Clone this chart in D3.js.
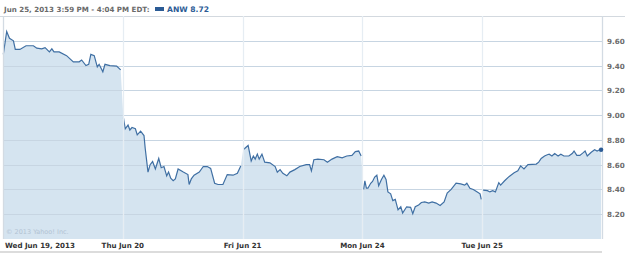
<!DOCTYPE html>
<html>
<head>
<meta charset="utf-8">
<script src="https://cdn.jsdelivr.net/npm/d3@7"></script>
<style>
  body { margin: 0; background: #fff; }
  svg text { font-family: "DejaVu Sans", Verdana, sans-serif; }
</style>
</head>
<body>
<div id="chart"></div>
<script>
// trading minutes since Wed 9:30 (5 sessions x 390 min)
var minutes = [1,12,21,34,40,55,75,99,110,126,137,151,159,166,183,207,229,248,256,270,279,286,297,307,313,325,332,348,370,383,
  392,398,407,413,420,431,437,448,459,463,472,479,487,496,507,515,524,533,539,546,554,561,570,587,602,606,613,622,639,652,665,676,689,700,716,730,749,763,774,
  782,798,808,815,821,828,834,843,852,869,886,893,902,911,924,934,950,966,987,998,1004,1012,1025,1045,1056,1071,1088,1104,1119,1136,1147,1158,1166,
  1174,1178,1183,1188,1197,1203,1210,1217,1223,1232,1240,1247,1253,1262,1269,1277,1286,1295,1301,1314,1327,1334,1342,1353,1362,1373,1386,1397,1410,1423,1436,1446,1459,1475,1490,1503,1510,1520,1531,1544,1553,1557,
  1562,1577,1585,1594,1603,1614,1620,1633,1648,1664,1676,1685,1696,1709,1736,1744,1752,1763,1772,1778,1787,1796,1807,1816,1826,1842,1853,1859,1868,1878,1888,1895,1902,1915,1926,1934,1942,1947];
var prices = [9.49,9.675,9.62,9.60,9.53,9.53,9.56,9.56,9.54,9.535,9.545,9.51,9.535,9.51,9.51,9.48,9.43,9.43,9.445,9.40,9.41,9.49,9.48,9.39,9.41,9.35,9.41,9.40,9.395,9.365,
  8.98,8.89,8.92,8.88,8.90,8.89,8.84,8.87,8.835,8.73,8.54,8.60,8.625,8.565,8.65,8.575,8.585,8.51,8.54,8.49,8.47,8.485,8.565,8.54,8.52,8.44,8.485,8.515,8.54,8.585,8.585,8.57,8.45,8.44,8.44,8.52,8.515,8.53,8.59,
  8.72,8.755,8.63,8.67,8.645,8.685,8.645,8.685,8.62,8.615,8.585,8.54,8.56,8.53,8.51,8.54,8.56,8.585,8.60,8.60,8.55,8.64,8.645,8.64,8.62,8.645,8.665,8.655,8.67,8.675,8.705,8.71,8.67,
  8.40,8.47,8.41,8.41,8.45,8.465,8.50,8.515,8.43,8.48,8.515,8.48,8.38,8.365,8.31,8.32,8.235,8.26,8.21,8.26,8.255,8.205,8.26,8.275,8.295,8.30,8.29,8.30,8.29,8.27,8.30,8.37,8.40,8.45,8.445,8.435,8.45,8.41,8.40,8.38,8.365,8.32,
  8.395,8.39,8.38,8.39,8.38,8.455,8.435,8.47,8.505,8.535,8.55,8.59,8.565,8.60,8.605,8.62,8.65,8.67,8.68,8.685,8.67,8.69,8.67,8.685,8.67,8.67,8.69,8.71,8.675,8.675,8.695,8.71,8.67,8.70,8.72,8.71,8.72,8.72];

var dayLabels = ["Wed Jun 19, 2013", "Thu Jun 20", "Fri Jun 21", "Mon Jun 24", "Tue Jun 25"];
var dayStarts = [0, 390, 780, 1170, 1560];
var yTicks = [8.20, 8.40, 8.60, 8.80, 9.00, 9.20, 9.40, 9.60];
var header = "Jun 25, 2013 3:59 PM - 4:04 PM EDT:";
var legendLabel = "ANW 8.72";

var W = 625, H = 253;
var plotL = 3, plotR = 602, plotT = 16, plotB = 239;

var svg = d3.select('#chart').append('svg')
    .attr('width', W)
    .attr('height', H);

var x = d3.scaleLinear().domain([0, 1950]).range([plotL, plotR]);
var y = d3.scaleLinear().domain([8.0, 9.8]).range([plotB, plotT]);

var data = minutes.map(function(m, i) { return {m: m, p: prices[i]}; });
// one line per trading session
var sessions = dayStarts.map(function(s) {
  return data.filter(function(d) { return d.m >= s && d.m < s + 390; });
});

// header
svg.append('text')
  .attr('x', 4).attr('y', 11.5)
  .style('font-size', '7.1px').style('font-weight', 'bold')
  .style('fill', '#6a6a6a')
  .text(header);
svg.append('rect')
  .attr('x', 155).attr('y', 7).attr('width', 9).attr('height', 4)
  .style('fill', '#2b5b95');
svg.append('text')
  .attr('x', 167).attr('y', 11.5)
  .style('font-size', '7.6px').style('font-weight', 'bold')
  .style('fill', '#2b5b95')
  .text(legendLabel);
svg.append('line')
  .attr('x1', 0).attr('x2', W).attr('y1', plotT + 0.5).attr('y2', plotT + 0.5)
  .style('stroke', '#d3d9df');

// area + line
var area = d3.area()
  .x(function(d) { return x(d.m); })
  .y0(plotB)
  .y1(function(d) { return y(d.p); });
var line = d3.line()
  .x(function(d) { return x(d.m); })
  .y(function(d) { return y(d.p); });

svg.append('path')
  .datum(data)
  .attr('d', area)
  .style('fill', '#d5e4f0');

// horizontal grid
svg.selectAll('.hgrid')
  .data(yTicks)
  .enter().append('line')
  .attr('class', 'hgrid')
  .attr('x1', plotL).attr('x2', plotR)
  .attr('y1', function(d) { return Math.round(y(d)) + 0.5; })
  .attr('y2', function(d) { return Math.round(y(d)) + 0.5; })
  .style('stroke', '#c7d5e2');

svg.selectAll('.session')
  .data(sessions)
  .enter().append('path')
  .attr('class', 'session')
  .attr('d', line)
  .style('fill', 'none')
  .style('stroke', '#3f6fa3')
  .style('stroke-width', 1.2);

// vertical grid (day boundaries)
svg.selectAll('.vgrid')
  .data(dayStarts.concat([1950]))
  .enter().append('line')
  .attr('class', 'vgrid')
  .attr('x1', function(d) { return Math.round(x(d)) + 0.5; })
  .attr('x2', function(d) { return Math.round(x(d)) + 0.5; })
  .attr('y1', plotT).attr('y2', plotB)
  .style('stroke', function(d, i) { return (i === 0 || d === 1950) ? '#d3dbe3' : '#e6edf3'; })
  .style('stroke-width', 1.3);

// end marker
var last = data[data.length - 1];
svg.append('circle')
  .attr('cx', x(last.m)).attr('cy', y(last.p)).attr('r', 2.2)
  .style('fill', '#2b5b95');

// y labels
svg.selectAll('.ylab')
  .data(yTicks)
  .enter().append('text')
  .attr('x', 607)
  .attr('y', function(d) { return y(d) + 3; })
  .style('font-size', '7.2px').style('font-weight', 'bold')
  .style('fill', '#6b6b6b')
  .text(function(d) { return d.toFixed(2); });

// x labels
svg.selectAll('.xlab')
  .data(dayLabels)
  .enter().append('text')
  .attr('x', function(d, i) { return i === 0 ? 5 : x(dayStarts[i]); })
  .attr('y', 248)
  .attr('text-anchor', function(d, i) { return i === 0 ? 'start' : 'middle'; })
  .style('font-size', '7.1px').style('font-weight', 'bold')
  .style('fill', '#333')
  .text(function(d) { return d; });

svg.append('line')
  .attr('x1', 0).attr('x2', plotR).attr('y1', 252).attr('y2', 252)
  .style('stroke', '#dcdcdc').style('stroke-width', 2);

// copyright
svg.append('text')
  .attr('x', 6).attr('y', 234)
  .style('font-size', '6.5px')
  .style('fill', '#b2c3d3')
  .text('\u00a9 2013 Yahoo! Inc.');
</script>
</body>
</html>
